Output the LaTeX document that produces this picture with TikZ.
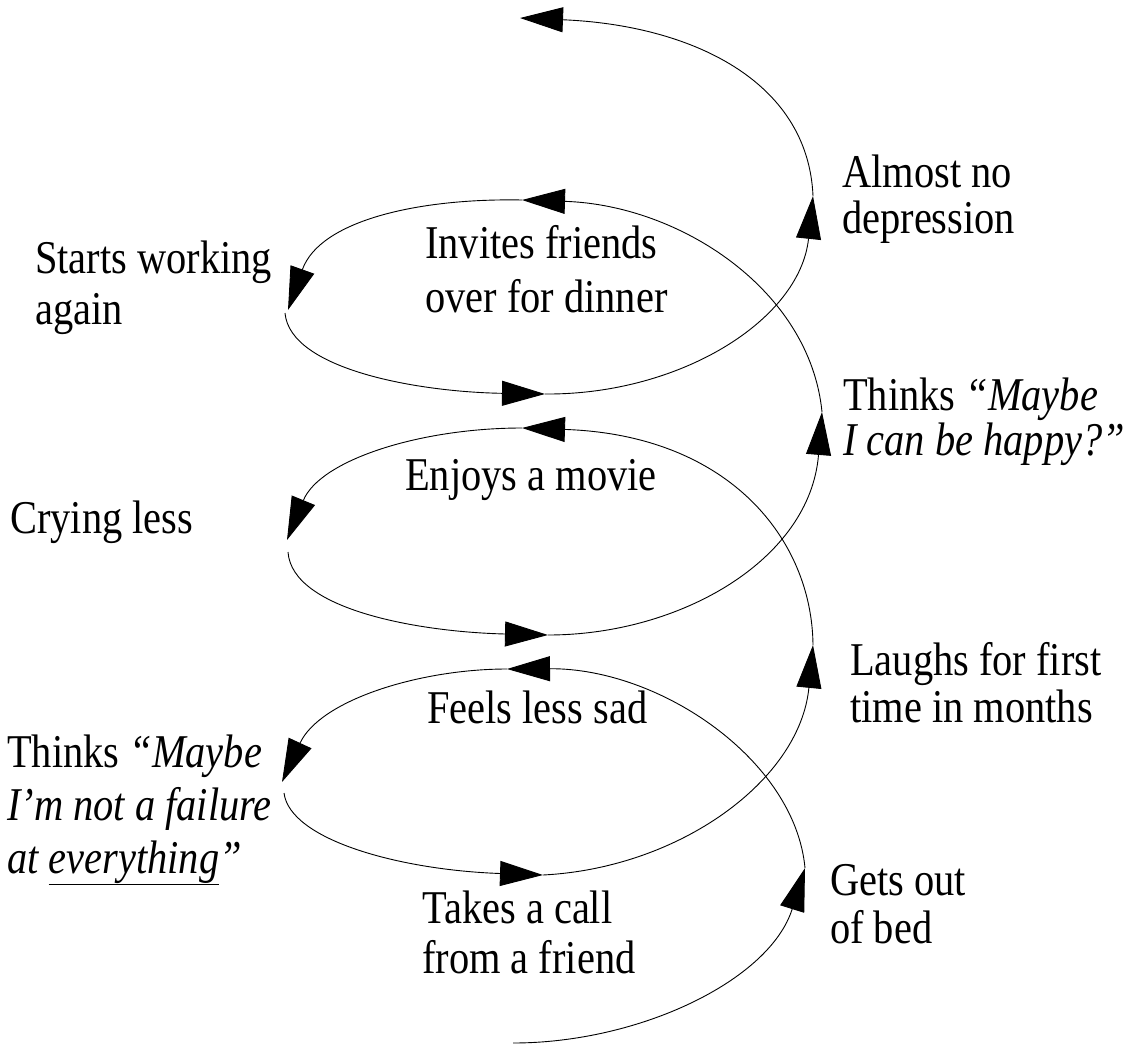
\documentclass[tikz,border=0pt]{standalone}
\usepackage{fontspec}
\setmainfont{Liberation Serif}[FakeStretch=0.86]
\usetikzlibrary{arrows.meta}
\begin{document}
\begin{tikzpicture}[x=1pt,y=-1pt,
  spiral/.style={line width=0.9pt, -{Triangle[length=43pt,width=25pt]}},
  lbl/.style={anchor=base west, inner sep=0pt, font=\fontsize{47}{50}\selectfont}]
\useasboundingbox (0,0) rectangle (1127,1046);
% points on the spiral
\coordinate (s0) at (513,1043);
\coordinate (a1) at (805,868);
\coordinate (a2) at (507,669);
\coordinate (a3) at (282,782);
\coordinate (r3) at (284,793);
\coordinate (a4) at (543,875);
\coordinate (a5) at (813,645);
\coordinate (a6) at (522,428);
\coordinate (a7) at (287,540);
\coordinate (r7) at (288,552);
\coordinate (a8) at (548,635);
\coordinate (a9) at (822,412);
\coordinate (a10) at (522,200);
\coordinate (a11) at (288,310);
\coordinate (r11) at (285,313);
\coordinate (a12) at (545,394);
\coordinate (a13) at (813,196);
\coordinate (a14) at (520,18);
% spiral
\draw[spiral] (s0) .. controls (640,1043) and (770,980) .. (a1);
\draw[spiral] (a1) .. controls (795,760) and (660,668) .. (a2);
\draw[spiral] (a2) .. controls (420,669) and (320,700) .. (a3);
\draw[spiral] (r3) .. controls (290,840) and (400,870) .. (a4);
\draw[spiral] (a4) .. controls (680,868) and (800,780) .. (a5);
\draw[spiral] (a5) .. controls (812,540) and (730,435) .. (a6);
\draw[spiral] (a6) .. controls (420,428) and (320,460) .. (a7);
\draw[spiral] (r7) .. controls (292,610) and (420,632) .. (a8);
\draw[spiral] (a8) .. controls (680,635) and (810,560) .. (a9);
\draw[spiral] (a9) .. controls (810,290) and (680,205) .. (a10);
\draw[spiral] (a10) .. controls (420,198) and (320,220) .. (a11);
\draw[spiral] (r11) .. controls (290,370) and (420,392) .. (a12);
\draw[spiral] (a12) .. controls (680,395) and (800,320) .. (a13);
\draw[spiral] (a13) .. controls (808,80) and (690,25) .. (a14);
% labels
\node[lbl, font=\fontsize{47}{46}\selectfont] (almost) at (842,187)
  {\begin{tabular}[t]{@{}l@{}}Almost no\\depression\end{tabular}};
\node[lbl, font=\fontsize{47}{51}\selectfont] (starts) at (35,273)
  {\begin{tabular}[t]{@{}l@{}}Starts working\\again\end{tabular}};
\node[lbl, font=\fontsize{47}{54}\selectfont] (invites) at (425,258)
  {\begin{tabular}[t]{@{}l@{}}Invites friends\\over for dinner\end{tabular}};
\node[lbl, font=\fontsize{47}{43}\selectfont] (happy) at (843,410)
  {\begin{tabular}[t]{@{}l@{}}Thinks \textit{“Maybe}\\\textit{I can be happy?”}\end{tabular}};
\node[lbl] (enjoys) at (405,490) {Enjoys a movie};
\node[lbl] (crying) at (10,533) {Crying less};
\node[lbl, font=\fontsize{47}{47}\selectfont] (laughs) at (850,675)
  {\begin{tabular}[t]{@{}l@{}}Laughs for first\\time in months\end{tabular}};
\node[lbl] (feels) at (427,723) {Feels less sad};
\node[lbl, font=\fontsize{47}{53}\selectfont] (failure) at (7,767)
  {\begin{tabular}[t]{@{}l@{}}Thinks \textit{“Maybe}\\\textit{I’m not a failure}\\\textit{at \underline{everything}”}\end{tabular}};
\node[lbl, font=\fontsize{47}{48}\selectfont] (gets) at (830,895)
  {\begin{tabular}[t]{@{}l@{}}Gets out\\of bed\end{tabular}};
\node[lbl] (takes) at (422,923)
  {\begin{tabular}[t]{@{}l@{}}Takes a call\\from a friend\end{tabular}};
\end{tikzpicture}
\end{document}
